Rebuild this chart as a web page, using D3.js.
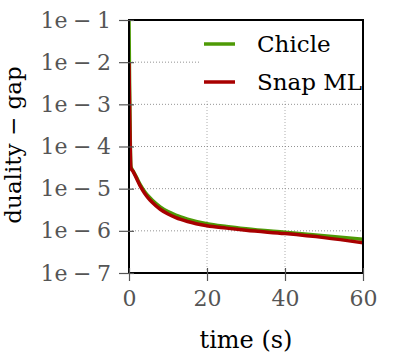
<!DOCTYPE html>
<html>
<head>
<meta charset="utf-8">
<script src="https://cdn.jsdelivr.net/npm/d3@7"></script>
<style>
  body { margin: 0; background: #fff; }
  svg { display: block; }
</style>
</head>
<body>
<script>
// Chart data
const seriesNames = ["Chicle", "Snap ML"];
const seriesColors = ["#4e9a06", "#a80000"];

const chicleTime = [0, 0.5, 1, 2, 3, 4, 5, 6, 8, 10, 12, 15, 20, 25, 30, 40, 50, 60];
const chicleGap = [1e-1, 3.3e-5, 2.7e-5, 1.8e-5, 1.2e-5, 8.6e-6, 6.6e-6, 5.3e-6, 3.7e-6, 2.85e-6, 2.35e-6, 1.9e-6, 1.48e-6, 1.27e-6, 1.12e-6, 9.2e-7, 7.6e-7, 6.3e-7];

const snapTime = [0, 0.5, 1, 2, 3, 4, 5, 6, 8, 10, 12, 15, 20, 25, 30, 40, 50, 60];
const snapGap = [1e-2, 3.1e-5, 2.6e-5, 1.7e-5, 1.1e-5, 7.8e-6, 5.9e-6, 4.7e-6, 3.25e-6, 2.5e-6, 2.05e-6, 1.66e-6, 1.32e-6, 1.16e-6, 1.03e-6, 8.6e-7, 6.9e-7, 5.2e-7];

const xTicks = [0, 20, 40, 60];
const yTicks = [1e-1, 1e-2, 1e-3, 1e-4, 1e-5, 1e-6, 1e-7];

// Dimensions
const svgWidth = 407;
const svgHeight = 360;
const margin = { top: 20, right: 44, bottom: 87, left: 129 };
const chartWidth = svgWidth - margin.left - margin.right;
const chartHeight = svgHeight - margin.top - margin.bottom;

const svg = d3.select("body").append("svg")
  .attr("width", svgWidth)
  .attr("height", svgHeight);

const g = svg.append("g")
  .attr("transform", `translate(${margin.left},${margin.top})`);

const x = d3.scaleLinear().domain([0, 60]).range([0, chartWidth]);
const y = d3.scaleLog().domain([1e-7, 1e-1]).range([chartHeight, 0]);

const fontFamily = "'DejaVu Serif', serif";

// grid lines
g.append("g").selectAll("line")
  .data(xTicks.slice(1, -1))
  .enter().append("line")
  .attr("x1", d => x(d)).attr("x2", d => x(d))
  .attr("y1", 0).attr("y2", chartHeight)
  .attr("stroke", "#999").attr("stroke-width", 0.8)
  .attr("stroke-dasharray", "1,2");

g.append("g").selectAll("line")
  .data(yTicks.slice(1, -1))
  .enter().append("line")
  .attr("x1", 0).attr("x2", chartWidth)
  .attr("y1", d => y(d)).attr("y2", d => y(d))
  .attr("stroke", "#777").attr("stroke-width", 0.8)
  .attr("stroke-dasharray", "1,2");

// lines
const line = d3.line()
  .x(d => x(d[0]))
  .y(d => y(d[1]))
  .curve(d3.curveMonotoneX);

const chicleData = chicleTime.map((t, i) => [t, chicleGap[i]]);
const snapData = snapTime.map((t, i) => [t, snapGap[i]]);

svg.append("defs").append("clipPath").attr("id", "clip")
  .append("rect").attr("width", chartWidth).attr("height", chartHeight);

const lines = g.append("g").attr("clip-path", "url(#clip)");
[chicleData, snapData].forEach((data, i) => {
  lines.append("path")
    .datum(data)
    .attr("fill", "none")
    .attr("stroke", seriesColors[i])
    .attr("stroke-width", 3.5)
    .attr("d", line);
});

// legend (white box covering the grid)
const legend = g.append("g").attr("transform", "translate(71,3)");
legend.append("rect")
  .attr("width", chartWidth - 73).attr("height", 77)
  .attr("fill", "#fff");
seriesNames.forEach((name, i) => {
  const ly = 21 + i * 38;
  legend.append("line")
    .attr("x1", 4).attr("x2", 35)
    .attr("y1", ly).attr("y2", ly)
    .attr("stroke", seriesColors[i]).attr("stroke-width", 3.5);
  legend.append("text")
    .attr("x", 57).attr("y", ly + 8)
    .attr("font-family", fontFamily).attr("font-size", 23)
    .attr("fill", "#000")
    .text(name);
});

// frame
g.append("rect")
  .attr("width", chartWidth).attr("height", chartHeight)
  .attr("fill", "none").attr("stroke", "#000").attr("stroke-width", 2);

// axes
const xAxis = g.append("g")
  .attr("transform", `translate(0,${chartHeight})`)
  .call(d3.axisBottom(x).tickValues(xTicks).tickSize(8).tickPadding(9));
const yAxis = g.append("g")
  .call(d3.axisLeft(y).tickValues(yTicks).tickSize(10).tickPadding(8)
    .tickFormat(d => "1e\u2005\u2212\u2005" + Math.round(-Math.log10(d))));

[xAxis, yAxis].forEach(ax => {
  ax.select(".domain").remove();
  ax.selectAll(".tick line").attr("stroke", "#555").attr("stroke-width", 1.2);
  ax.selectAll(".tick text")
    .attr("font-family", fontFamily).attr("font-size", 22)
    .attr("fill", "#555");
});
xAxis.selectAll(".tick line").attr("y1", -5);
yAxis.selectAll(".tick line").attr("x1", 5);

// axis titles
svg.append("text")
  .attr("x", margin.left + chartWidth / 2)
  .attr("y", 348)
  .attr("text-anchor", "middle")
  .attr("font-family", fontFamily).attr("font-size", 24)
  .text("time (s)");

svg.append("text")
  .attr("transform", "translate(21,145) rotate(-90)")
  .attr("text-anchor", "middle")
  .attr("font-family", fontFamily).attr("font-size", 23)
  .text("duality \u2212 gap");
</script>
</body>
</html>
